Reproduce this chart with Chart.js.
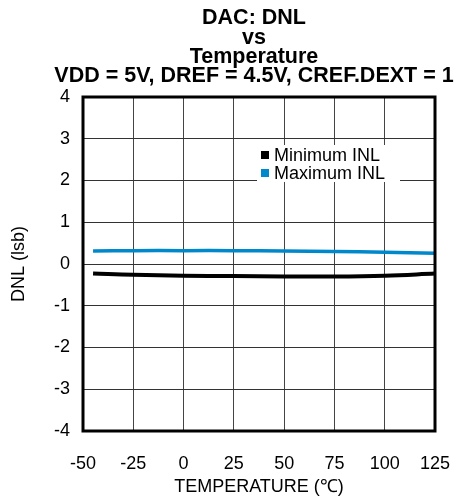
<!DOCTYPE html>
<html>
<head>
<meta charset="utf-8">
<script src="https://cdn.jsdelivr.net/npm/chart.js@4/dist/chart.umd.min.js"></script>
<style>
html,body{margin:0;padding:0;background:#fff;}
#wrap{width:457px;height:498px;position:relative;}
</style>
</head>
<body>
<div id="wrap"><canvas id="c" width="457" height="498"></canvas></div>
<script>
const titleLines = ["DAC: DNL", "vs", "Temperature", "VDD = 5V, DREF = 4.5V, CREF.DEXT = 1"];
const temperatures = [-45, -25, 0, 25, 50, 75, 100, 125];
const minimumINL = [-0.23, -0.26, -0.28, -0.29, -0.30, -0.30, -0.28, -0.23];
const maximumINL = [0.31, 0.32, 0.32, 0.32, 0.31, 0.30, 0.28, 0.26];
const seriesLabels = ["Minimum INL", "Maximum INL"];
const xTicks = [-50, -25, 0, 25, 50, 75, 100, 125];
const yTicks = [4, 3, 2, 1, 0, -1, -2, -3, -4];
const xTitle = "TEMPERATURE (\u2103)";
const yTitle = "DNL (lsb)";

const FONT = "'Liberation Sans', Arial, Helvetica, sans-serif";
const seriesColors = ["#000000", "#0088cc"];

const toPoints = (xs, ys) => xs.map((x, i) => ({x: x, y: ys[i]}));

const titlePlugin = {
  id: 'multiTitle',
  afterDraw(chart) {
    const ctx = chart.ctx;
    const ca = chart.chartArea;
    ctx.save();
    ctx.fillStyle = '#000';
    ctx.font = "bold 21.5px " + FONT;
    ctx.textAlign = 'center';
    ctx.textBaseline = 'alphabetic';
    const cx = (ca.left + ca.right) / 2 - 5;
    const baselines = [24, 43.5, 63, 82];
    titleLines.forEach((t, i) => ctx.fillText(t, cx, baselines[i]));
    ctx.restore();
  }
};

const framePlugin = {
  id: 'frame',
  afterDatasetsDraw(chart) {
    const ctx = chart.ctx;
    const ca = chart.chartArea;
    ctx.save();
    ctx.strokeStyle = '#000';
    ctx.lineWidth = 3;
    ctx.strokeRect(ca.left, ca.top, ca.right - ca.left, ca.bottom - ca.top);
    ctx.restore();
  }
};

const legendPlugin = {
  id: 'innerLegend',
  beforeDatasetsDraw(chart) {
    const ctx = chart.ctx;
    const ca = chart.chartArea;
    const x0 = ca.left + 174;
    const y0 = ca.top + 48;
    ctx.save();
    ctx.fillStyle = '#fff';
    ctx.fillRect(x0, y0, 143, 37);
    ctx.font = "18px " + FONT;
    ctx.textBaseline = 'middle';
    ctx.textAlign = 'left';
    chart.data.datasets.forEach((ds, i) => {
      const cy = y0 + 10 + i * 18;
      ctx.fillStyle = ds.borderColor;
      ctx.fillRect(x0 + 4, cy - 4, 8, 8);
      ctx.fillStyle = '#000';
      ctx.fillText(ds.label, x0 + 17, cy + 1);
    });
    ctx.restore();
  }
};

new Chart(document.getElementById('c'), {
  type: 'line',
  data: {
    datasets: [
      {label: seriesLabels[0], data: toPoints(temperatures, minimumINL), borderColor: seriesColors[0], backgroundColor: seriesColors[0], borderWidth: 4, pointRadius: 0, tension: 0.4, fill: false},
      {label: seriesLabels[1], data: toPoints(temperatures, maximumINL), borderColor: seriesColors[1], backgroundColor: seriesColors[1], borderWidth: 3.5, pointRadius: 0, tension: 0.4, fill: false}
    ]
  },
  options: {
    responsive: false,
    animation: false,
    devicePixelRatio: 1,
    layout: {padding: {top: 97, right: 22, bottom: 0, left: 0}},
    plugins: {legend: {display: false}, title: {display: false}, tooltip: {enabled: false}},
    scales: {
      x: {
        type: 'linear',
        min: xTicks[0],
        max: xTicks[xTicks.length - 1],
        afterBuildTicks(scale) { scale.ticks = xTicks.map(v => ({value: v})); },
        afterFit(scale) { scale.height = 67; scale.paddingLeft = 0; scale.paddingRight = 0; },
        grid: {color: '#444', lineWidth: 1, drawTicks: false},
        border: {display: false},
        ticks: {color: '#000', font: {family: FONT, size: 18}, padding: 22, maxRotation: 0, autoSkip: false},
        title: {display: true, text: xTitle, color: '#000', font: {family: FONT, size: 18}, padding: {top: 0, bottom: 0}}
      },
      y: {
        type: 'linear',
        min: yTicks[yTicks.length - 1],
        max: yTicks[0],
        afterBuildTicks(scale) { scale.ticks = yTicks.slice().reverse().map(v => ({value: v})); },
        afterFit(scale) { scale.width = 83; scale.paddingTop = 0; scale.paddingBottom = 0; },
        grid: {color: '#333', lineWidth: 1, drawTicks: false},
        border: {display: false},
        ticks: {color: '#000', font: {family: FONT, size: 18}, padding: 13},
        title: {display: true, text: yTitle, color: '#000', font: {family: FONT, size: 18}, padding: {top: 8, bottom: 0}}
      }
    }
  },
  plugins: [legendPlugin, framePlugin, titlePlugin]
});
</script>
</body>
</html>
